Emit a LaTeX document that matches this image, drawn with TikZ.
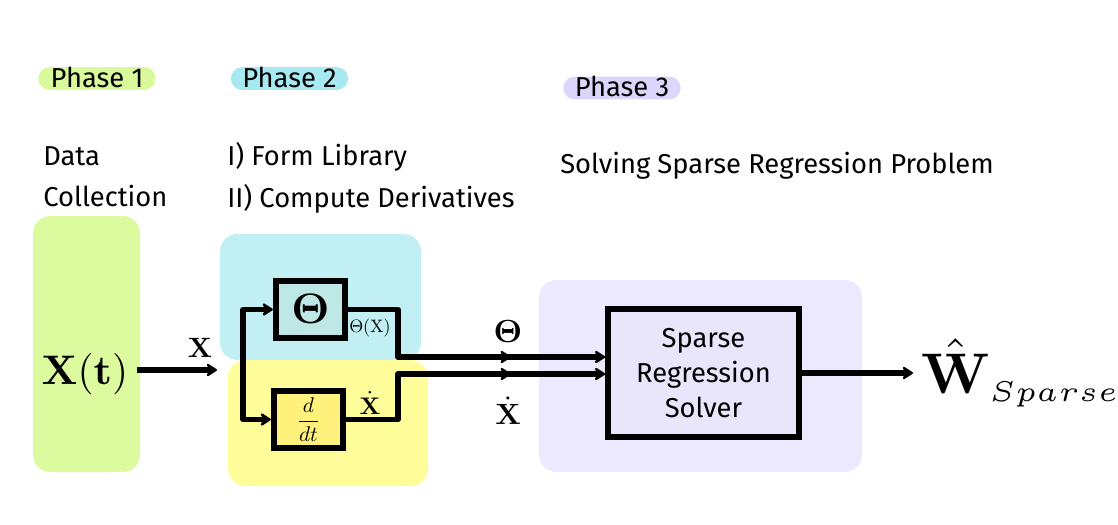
\documentclass[tikz,border=0pt]{standalone}
\usepackage{amsmath}
\usepackage{amssymb}
\usepackage[no-math]{fontspec}
\newfontfamily\sketchfont{Fira Sans}
\usepackage{tikz}
\usetikzlibrary{arrows.meta,decorations.markings}
\definecolor{limebg}{HTML}{DCFB9E}
\definecolor{limetag}{HTML}{D8FA9A}
\definecolor{cyanbg}{HTML}{C1EFF4}
\definecolor{cyantag}{HTML}{A6E9F1}
\definecolor{yellowbg}{HTML}{FFFD9A}
\definecolor{thetafill}{HTML}{BDE8E6}
\definecolor{ddtfill}{HTML}{FFF17C}
\definecolor{lilacbg}{HTML}{ECE8FD}
\definecolor{lilactag}{HTML}{DCD6FA}
\definecolor{solverfill}{HTML}{E9E5FB}

\begin{document}
\begin{tikzpicture}[x=0.75pt,y=-0.75pt,
	hand/.style={font=\sketchfont\fontsize{20.5}{26}\selectfont,inner sep=0pt},
	tag/.style={hand,rounded corners=8.5pt,minimum width=88pt,minimum height=17pt,text height=13pt,text depth=0pt},
	panel/.style={rounded corners=13pt},
	block/.style={draw,line width=4.5pt,minimum width=52pt,minimum height=43pt},
	sym/.style={inner sep=0pt,anchor=base,scale=#1},
	flow/.style={line width=4pt,line join=round,-{Stealth[length=9.5pt,width=12pt,round]}},
	midtip/.style={postaction={decorate},decoration={markings,mark=at position 0.69 with {\arrow{Stealth[length=9.5pt,width=12pt,round]}}}}
	]
	\useasboundingbox (0,0) rectangle (1118,525);
	% phase areas
	\fill[limebg,panel] (33,216) rectangle (140,472);
	\fill[cyanbg,panel] (220,234) rectangle (421,360);
	\fill[yellowbg,panel] (228,360) rectangle (428,486);
	\fill[lilacbg,panel] (539,280) rectangle (862,472);

	\node[tag,fill=limetag] (tagA) at (97,78.5) {Phase 1};
	\node[tag,fill=cyantag] (tagB) at (289.5,78.5) {Phase 2};
	\node[tag,fill=lilactag] (tagC) at (622,88) {Phase 3};

	\node[hand,anchor=base west] (dataA) at (43,165) {Data};
	\node[hand,anchor=base west] (dataB) at (43,206) {Collection};
	\node[hand,anchor=base west] (libA) at (227,165) {I) Form Library};
	\node[hand,anchor=base west] (libB) at (227,207) {II) Compute Derivatives};
	\node[hand,anchor=base west] (probA) at (560,173) {Solving Sparse Regression Problem};

	% blocks
	\node[block,fill=thetafill] (theta) at (310.5,309.5) {};
	\node[sym=3.2] (thsym) at (310.5,323) {$\mathbf{\Theta}$};
	\node[block,fill=ddtfill] (deriv) at (308.5,419.5) {};
	\node[inner sep=0pt,scale=1.6] (ddt) at (308.5,419.5) {$\displaystyle\frac{d}{dt}$};
	\node[block,hand,fill=solverfill,minimum width=143pt,minimum height=96pt,align=center] (solver) at (703.5,373) {Sparse\\Regression\\Solver};

	\node[sym=3.1,inner sep=2pt] (xt) at (85,384) {$\mathbf{X(t)}$};
	\coordinate (xin) at (217,370);
	\draw[flow] (xt.east |- xin) -- (xin);
	\node[sym=2.1] (xlbl) at (200,357) {$\mathbf{X}$};

	\coordinate (fork) at (243,365);
	\draw[flow] (fork) |- (theta);
	\draw[flow] (fork) |- (deriv);

	\coordinate (thK) at (398,357);
	\coordinate (dvK) at (398,374);
	\draw[flow,midtip] (theta.east) -| (thK) -- (thK -| solver.west);
	\draw[flow,midtip] (deriv.east) -| (dvK) -- (dvK -| solver.west);
	\node[sym=1.35] (thlbl) at (370,332) {$\Theta(\mathrm{X})$};
	\node[sym=1.8] (dvlbl) at (370,414) {$\dot{\mathbf{X}}$};
	\node[sym=2.4] (thin) at (508,342) {$\mathbf{\Theta}$};
	\node[sym=2.2] (dvin) at (508,424) {$\dot{\mathbf{X}}$};

	\coordinate (wout) at (913,373);
	\draw[flow] (solver) -- (wout);
	\node[sym=4.3,anchor=base west] (wsparse) at (920,393) {$\hat{\mathbf{W}}_{\scriptscriptstyle Sparse}$};
\end{tikzpicture}
\end{document}
